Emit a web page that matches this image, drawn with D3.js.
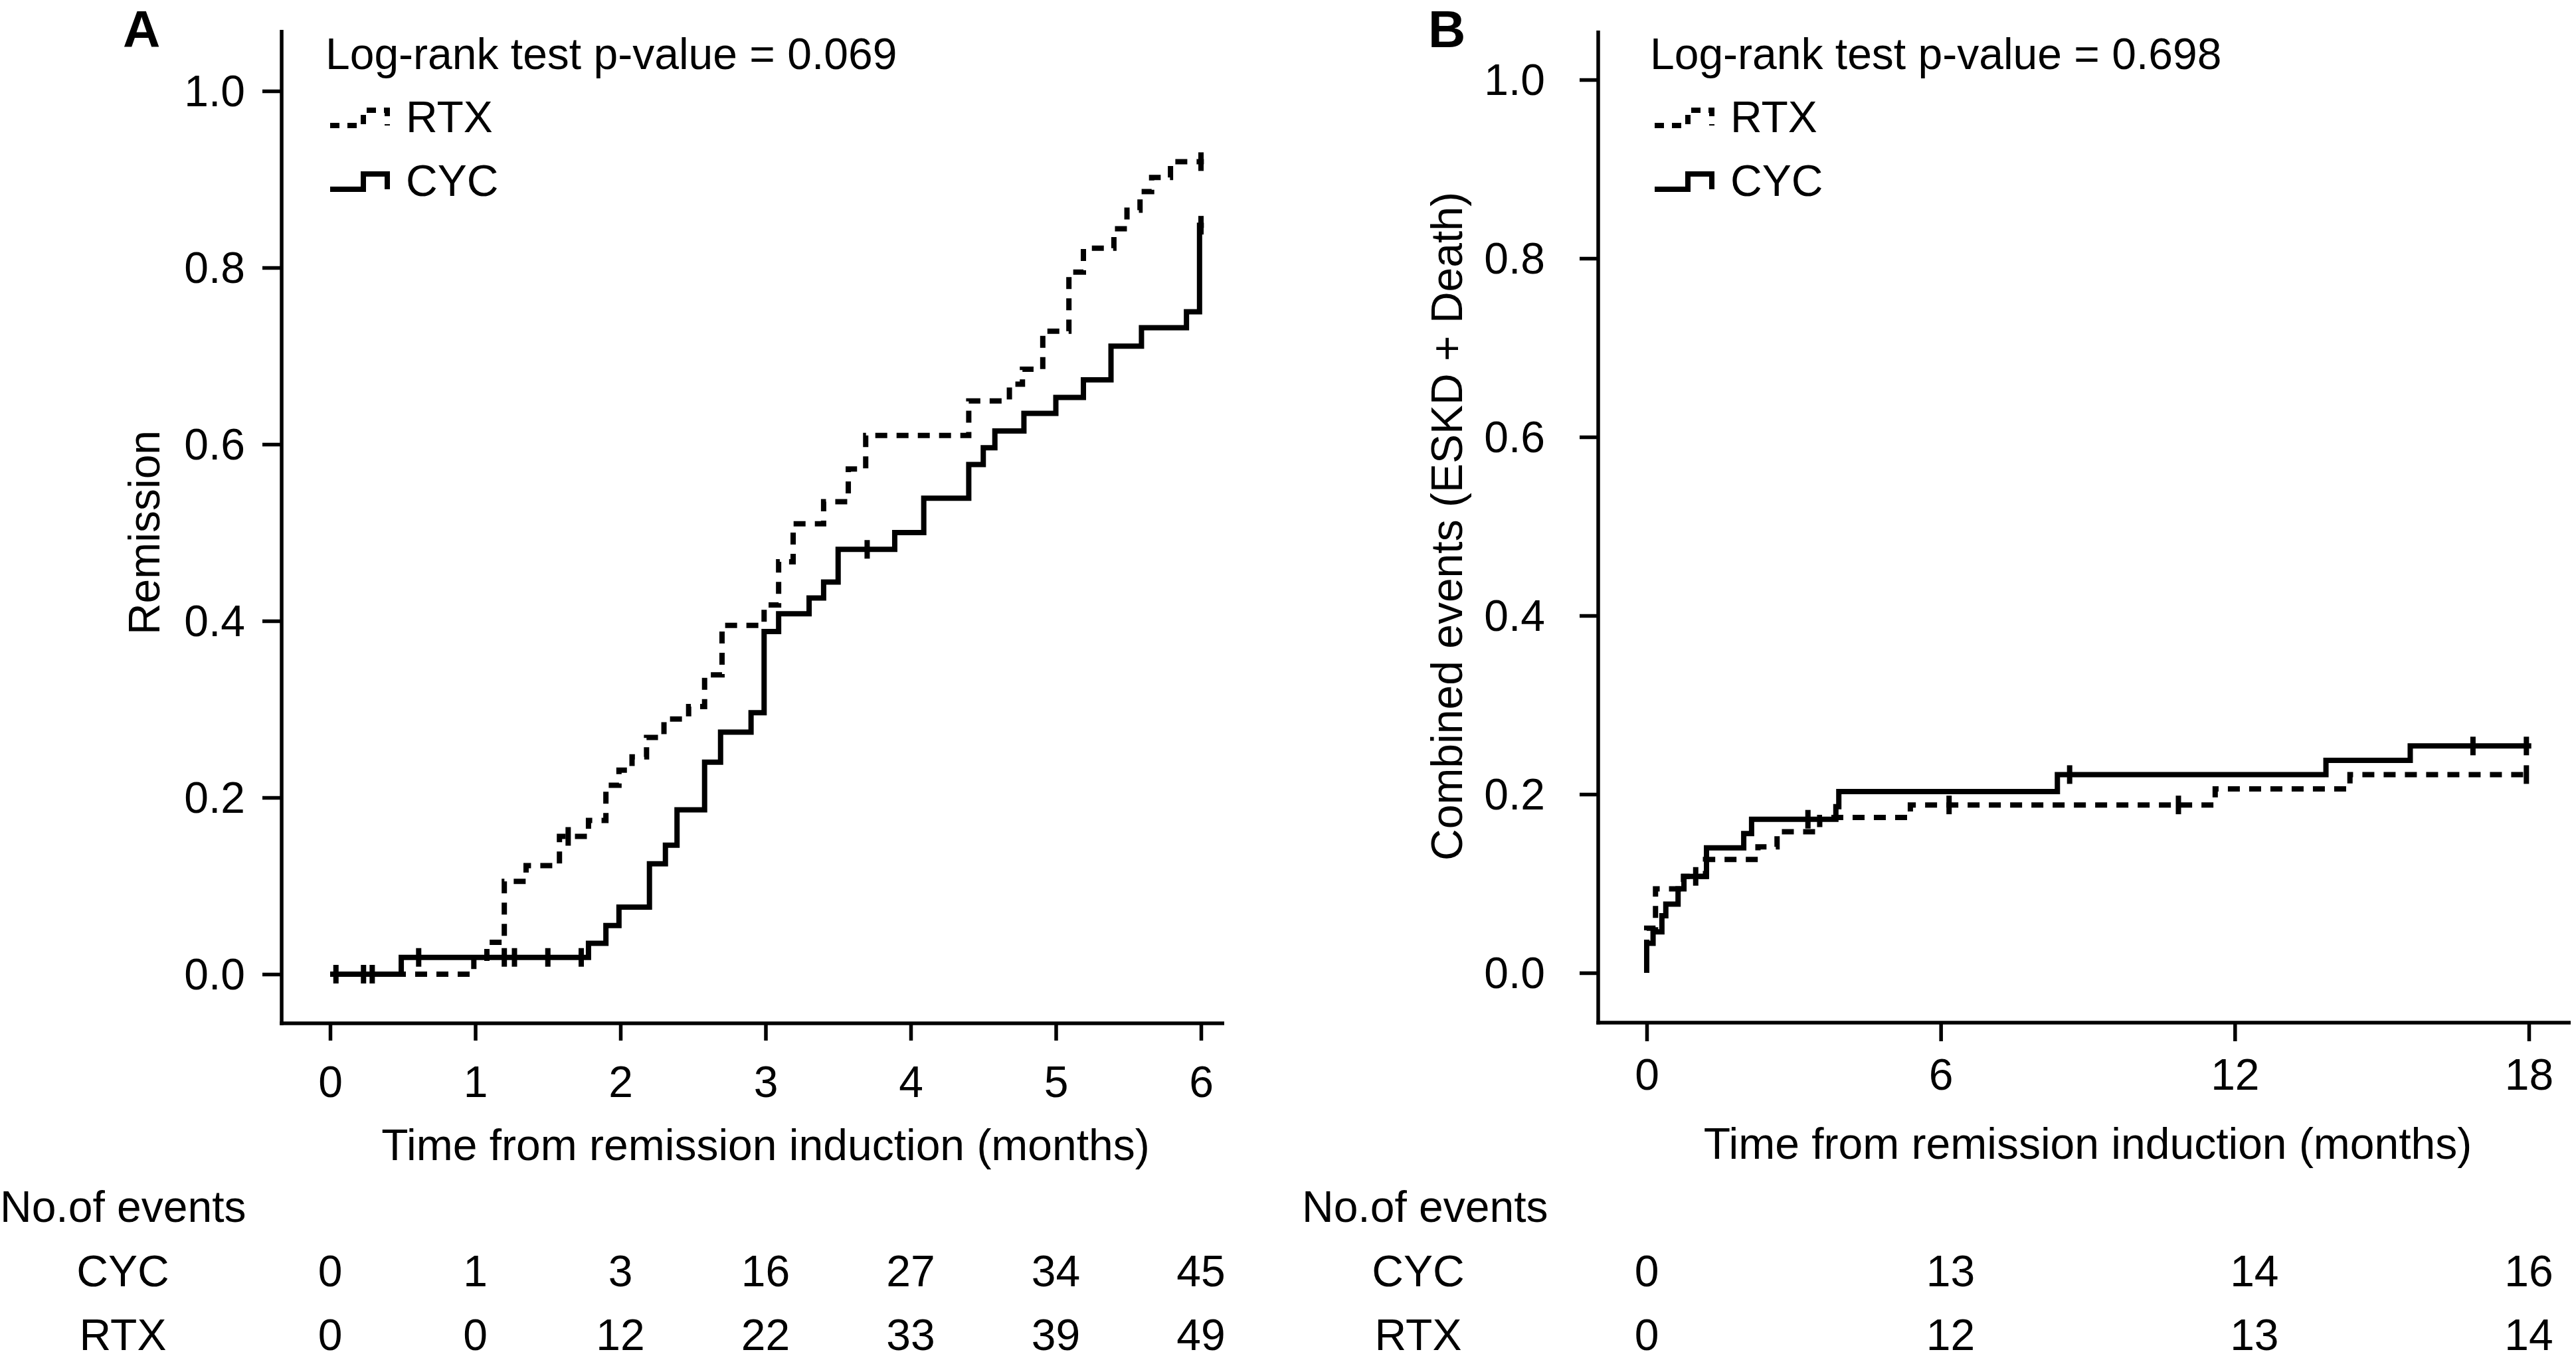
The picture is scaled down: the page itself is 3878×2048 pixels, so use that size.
<!DOCTYPE html>
<html>
<head>
<meta charset="utf-8">
<script src="https://cdn.jsdelivr.net/npm/d3@7"></script>
<style>
  html, body { margin: 0; padding: 0; background: #fff; }
  svg { display: block; }
  text { font-family: "Liberation Sans", Arial, Helvetica, sans-serif; fill: #000; }
</style>
</head>
<body>
<svg id="chart" width="3878" height="2048"></svg>
<script>
// ---------------- DATA ----------------
// Panel A: Remission (months 0-6)
const aTicksX = [0, 1, 2, 3, 4, 5, 6];
const aTicksY = [0, 0.2, 0.4, 0.6, 0.8, 1.0];
const aCycTime  = [0, 0.49, 1.78, 1.90, 1.99, 2.20, 2.31, 2.39, 2.58, 2.69, 2.90, 2.99, 3.09, 3.30, 3.40, 3.50, 3.89, 4.09, 4.40, 4.50, 4.58, 4.78, 5.00, 5.19, 5.38, 5.59, 5.90, 5.99];
const aCycValue = [0, 0.019, 0.035, 0.055, 0.076, 0.125, 0.146, 0.186, 0.240, 0.274, 0.296, 0.388, 0.408, 0.426, 0.444, 0.481, 0.500, 0.539, 0.577, 0.596, 0.615, 0.635, 0.653, 0.673, 0.711, 0.732, 0.750, 0.848];
const aCycCensor = [0.04, 0.23, 0.29, 0.61, 1.20, 1.27, 1.50, 1.73, 3.70, 6.0];
const aRtxTime  = [0, 0.99, 1.08, 1.20, 1.35, 1.58, 1.78, 1.90, 1.99, 2.08, 2.18, 2.30, 2.47, 2.58, 2.70, 2.99, 3.09, 3.19, 3.40, 3.57, 3.69, 4.40, 4.68, 4.77, 4.91, 5.09, 5.19, 5.40, 5.49, 5.58, 5.66, 5.79];
const aRtxValue = [0, 0.018, 0.036, 0.105, 0.123, 0.156, 0.174, 0.214, 0.231, 0.246, 0.268, 0.289, 0.303, 0.339, 0.395, 0.418, 0.467, 0.510, 0.535, 0.572, 0.610, 0.649, 0.668, 0.685, 0.728, 0.795, 0.822, 0.844, 0.865, 0.886, 0.902, 0.920];
const aRtxCensor = [1.64, 6.0];
const aEnd = 6.02;
const aEventsCyc = [0, 1, 3, 16, 27, 34, 45];
const aEventsRtx = [0, 0, 12, 22, 33, 39, 49];
const aPValue = "Log-rank test p-value = 0.069";

// Panel B: Combined events (months 0-18)
const bTicksX = [0, 6, 12, 18];
const bTicksY = [0, 0.2, 0.4, 0.6, 0.8, 1.0];
const bCycTime  = [0, 0, 0.13, 0.31, 0.39, 0.64, 0.76, 1.22, 1.98, 2.14, 3.86, 3.92, 8.38, 13.86, 15.58];
const bCycValue = [0, 0.033, 0.046, 0.064, 0.077, 0.094, 0.108, 0.140, 0.156, 0.172, 0.186, 0.203, 0.222, 0.238, 0.254];
const bCycCensor = [1.0, 3.29, 8.63, 16.86, 17.95];
const bRtxTime  = [0, 0, 0.18, 0.75, 1.20, 2.27, 2.66, 3.53, 5.38, 11.6, 14.35];
const bRtxValue = [0, 0.05, 0.094, 0.108, 0.127, 0.141, 0.158, 0.174, 0.188, 0.206, 0.222];
const bRtxCensor = [6.17, 10.85, 17.95];
const bEnd = 18.05;
const bEventCols = [0, 6.2, 12.4, 18];
const bEventsCyc = [0, 13, 14, 16];
const bEventsRtx = [0, 12, 13, 14];
const bPValue = "Log-rank test p-value = 0.698";

const groups = ["RTX", "CYC"];
const xTitle = "Time from remission induction (months)";

// ---------------- DRAWING ----------------
const svg = d3.select("#chart");
svg.append("rect").attr("width", 3878).attr("height", 2048).attr("fill", "#fff");

const FS = 66;
const DASH = "18,14";
const LW = 8;
const AW = 5.5;

function stepValue(times, values, t) {
  let v = values[0];
  for (let i = 0; i < times.length; i++) if (times[i] <= t) v = values[i];
  return v;
}

function drawPanel(cfg) {
  const g = svg.append("g");
  const x = cfg.x, y = cfg.y;

  // axes lines
  g.append("line").attr("x1", cfg.axisX).attr("x2", cfg.axisX)
    .attr("y1", cfg.axisTop).attr("y2", cfg.axisY + AW / 2)
    .attr("stroke", "#000").attr("stroke-width", AW);
  g.append("line").attr("x1", cfg.axisX - AW / 2).attr("x2", cfg.axisRight)
    .attr("y1", cfg.axisY).attr("y2", cfg.axisY)
    .attr("stroke", "#000").attr("stroke-width", AW);

  // y ticks
  const ya = g.append("g").attr("transform", `translate(${cfg.axisX},0)`)
    .call(d3.axisLeft(y).tickValues(cfg.ticksY).tickFormat(d3.format(".1f"))
      .tickSize(cfg.yTickSize).tickPadding(cfg.yTickPad));
  ya.select(".domain").remove();
  ya.selectAll("line").attr("stroke-width", AW);
  ya.selectAll("text").attr("font-size", FS).attr("dy", "0.34em")
    .attr("font-family", "Liberation Sans, Arial, sans-serif");

  // x ticks
  const xa = g.append("g").attr("transform", `translate(0,${cfg.axisY})`)
    .call(d3.axisBottom(x).tickValues(cfg.ticksX).tickFormat(d3.format("d"))
      .tickSize(cfg.xTickSize).tickPadding(cfg.xTickPad));
  xa.select(".domain").remove();
  xa.selectAll("line").attr("stroke-width", AW);
  xa.selectAll("text").attr("font-size", FS)
    .attr("font-family", "Liberation Sans, Arial, sans-serif");

  // axis titles
  g.append("text").attr("x", (x(cfg.ticksX[0]) + x(cfg.ticksX[cfg.ticksX.length - 1])) / 2)
    .attr("y", cfg.xTitleY).attr("text-anchor", "middle").attr("font-size", FS).text(xTitle);
  g.append("text").attr("transform", `translate(${cfg.yTitleX},${(y(0) + y(1)) / 2}) rotate(-90)`)
    .attr("text-anchor", "middle").attr("font-size", FS).text(cfg.yTitle);

  // panel letter
  g.append("text").attr("x", cfg.letterX).attr("y", 71).attr("font-size", 78)
    .attr("font-weight", "bold").text(cfg.letter);

  // curves
  const line = d3.line().x(d => x(d[0])).y(d => y(d[1])).curve(d3.curveStepAfter);
  cfg.series.forEach(s => {
    const pts = s.time.map((t, i) => [t, s.value[i]]);
    pts.push([s.end, s.value[s.value.length - 1]]);
    g.append("path").attr("d", line(pts)).attr("fill", "none")
      .attr("stroke", "#000").attr("stroke-width", LW)
      .attr("stroke-dasharray", s.dashed ? DASH : null);
    g.selectAll(null).data(s.censor).enter().append("line")
      .attr("x1", d => x(d)).attr("x2", d => x(d))
      .attr("y1", d => y(stepValue(s.time, s.value, d)) - 14)
      .attr("y2", d => y(stepValue(s.time, s.value, d)) + 14)
      .attr("stroke", "#000").attr("stroke-width", LW);
  });

  // legend
  g.append("text").attr("x", cfg.legX - 7).attr("y", 104).attr("font-size", FS).text(cfg.pValue);
  groups.forEach((name, i) => {
    const cy = 177 + i * 96;
    const x0 = cfg.legX;
    g.append("path")
      .attr("d", `M${x0},${cy + 12} H${x0 + 50} V${cy - 11} H${x0 + 86} V${cy + 12}`)
      .attr("fill", "none").attr("stroke", "#000").attr("stroke-width", LW)
      .attr("stroke-dasharray", name === "RTX" ? "14,12" : null);
    g.append("text").attr("x", x0 + 114).attr("y", cy + 22).attr("font-size", FS).text(name);
  });

  // events table
  g.append("text").attr("x", cfg.tableLabelX).attr("y", 1840).attr("font-size", FS).text("No.of events");
  const rows = [["CYC", cfg.eventsCyc, 1937], ["RTX", cfg.eventsRtx, 2033]];
  rows.forEach(r => {
    g.append("text").attr("x", cfg.rowLabelX).attr("y", r[2]).attr("text-anchor", "middle")
      .attr("font-size", FS).text(r[0]);
    g.selectAll(null).data(r[1]).enter().append("text")
      .attr("x", (d, i) => x(cfg.eventCols[i])).attr("y", r[2])
      .attr("text-anchor", "middle").attr("font-size", FS).text(d => d);
  });
}

drawPanel({
  x: d3.scaleLinear([0, 6], [497, 1808]),
  y: d3.scaleLinear([0, 1], [1467, 137]),
  axisX: 424, axisY: 1541, axisTop: 45, axisRight: 1843,
  ticksX: aTicksX, ticksY: aTicksY,
  yTickSize: 29, yTickPad: 26, xTickSize: 26, xTickPad: 38,
  xTitleY: 1747, yTitleX: 240, yTitle: "Remission",
  letter: "A", letterX: 185,
  legX: 497, pValue: aPValue,
  series: [
    { time: aRtxTime, value: aRtxValue, censor: aRtxCensor, end: aEnd, dashed: true },
    { time: aCycTime, value: aCycValue, censor: aCycCensor, end: aEnd, dashed: false }
  ],
  tableLabelX: 0, rowLabelX: 185,
  eventCols: aTicksX, eventsCyc: aEventsCyc, eventsRtx: aEventsRtx
});

drawPanel({
  x: d3.scaleLinear([0, 18], [2479, 3807]),
  y: d3.scaleLinear([0, 1], [1465, 120]),
  axisX: 2406, axisY: 1540, axisTop: 46, axisRight: 3870,
  ticksX: bTicksX, ticksY: bTicksY,
  yTickSize: 28, yTickPad: 52, xTickSize: 28, xTickPad: 26,
  xTitleY: 1745, yTitleX: 2201, yTitle: "Combined events (ESKD + Death)",
  letter: "B", letterX: 2150,
  legX: 2491, pValue: bPValue,
  series: [
    { time: bRtxTime, value: bRtxValue, censor: bRtxCensor, end: bEnd, dashed: true },
    { time: bCycTime, value: bCycValue, censor: bCycCensor, end: bEnd, dashed: false }
  ],
  tableLabelX: 1960, rowLabelX: 2135,
  eventCols: bEventCols, eventsCyc: bEventsCyc, eventsRtx: bEventsRtx
});
</script>
</body>
</html>
